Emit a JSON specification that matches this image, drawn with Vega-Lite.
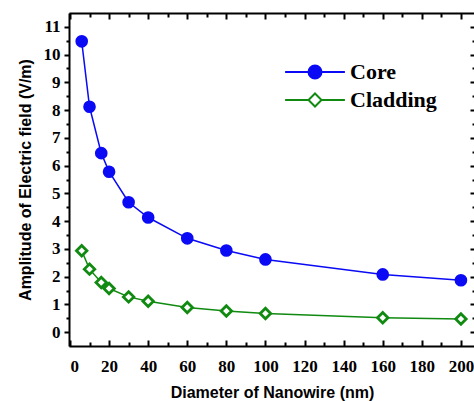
{
  "$schema": "https://vega.github.io/schema/vega-lite/v6.json",
  "autosize": "none",
  "width": 406,
  "height": 333,
  "padding": {"left": 69, "top": 13, "right": 0, "bottom": 55},
  "background": "white",
  "config": {
    "view": {"stroke": null},
    "axis": {
      "grid": false,
      "domainColor": "black",
      "domainWidth": 2,
      "tickColor": "black",
      "tickWidth": 2,
      "labelFont": "Liberation Serif",
      "labelFontWeight": "bold",
      "labelFontSize": 17,
      "labelColor": "black",
      "titleFont": "Liberation Sans",
      "titleFontWeight": "bold",
      "titleFontSize": 16,
      "titleColor": "black"
    },
    "legend": {
      "orient": "none",
      "legendX": 235,
      "legendY": 48,
      "title": null,
      "padding": 0,
      "rowPadding": 6,
      "labelFont": "Liberation Serif",
      "labelFontWeight": "bold",
      "labelFontSize": 22,
      "labelColor": "black",
      "labelOffset": 24,
      "symbolSize": 169,
      "symbolStrokeWidth": 2,
      "symbolOpacity": 1
    }
  },
  "data": {
    "values": [
      {"d": 6, "a": 10.48, "s": "Core"},
      {"d": 10, "a": 8.12, "s": "Core"},
      {"d": 16, "a": 6.45, "s": "Core"},
      {"d": 20, "a": 5.78, "s": "Core"},
      {"d": 30, "a": 4.68, "s": "Core"},
      {"d": 40, "a": 4.13, "s": "Core"},
      {"d": 60, "a": 3.38, "s": "Core"},
      {"d": 80, "a": 2.94, "s": "Core"},
      {"d": 100, "a": 2.62, "s": "Core"},
      {"d": 160, "a": 2.08, "s": "Core"},
      {"d": 200, "a": 1.87, "s": "Core"},
      {"d": 6, "a": 2.93, "s": "Cladding"},
      {"d": 10, "a": 2.27, "s": "Cladding"},
      {"d": 16, "a": 1.79, "s": "Cladding"},
      {"d": 20, "a": 1.57, "s": "Cladding"},
      {"d": 30, "a": 1.27, "s": "Cladding"},
      {"d": 40, "a": 1.11, "s": "Cladding"},
      {"d": 60, "a": 0.89, "s": "Cladding"},
      {"d": 80, "a": 0.76, "s": "Cladding"},
      {"d": 100, "a": 0.67, "s": "Cladding"},
      {"d": 160, "a": 0.52, "s": "Cladding"},
      {"d": 200, "a": 0.47, "s": "Cladding"}
    ]
  },
  "layer": [
    {
      "transform": [{"filter": "datum.s === 'Core'"}],
      "mark": {"type": "line", "color": "#0a0af5", "strokeWidth": 1.5},
      "encoding": {
        "x": {"field": "d", "type": "quantitative",
          "scale": {"domain": [-0.5, 207.2], "nice": false, "zero": false},
          "axis": {"orient": "bottom", "title": "Diameter of Nanowire (nm)", "values": [0,20,40,60,80,100,120,140,160,180,200], "tickSize": -6, "labelPadding": 18, "titlePadding": 10}},
        "y": {"field": "a", "type": "quantitative",
          "scale": {"domain": [-0.5, 11.5], "nice": false, "zero": false},
          "axis": {"orient": "left", "title": "Amplitude of Electric field (V/m)", "values": [0,1,2,3,4,5,6,7,8,9,10,11], "tickSize": 5, "labelPadding": 4, "titlePadding": 10}}
      }
    },
    {
      "transform": [{"filter": "datum.s === 'Cladding'"}],
      "mark": {"type": "line", "color": "#108a10", "strokeWidth": 1.5},
      "encoding": {
        "x": {"field": "d", "type": "quantitative",
          "axis": {"orient": "bottom", "title": null, "labels": false, "domain": false, "values": [10,30,50,70,90,110,130,150,170,190], "tickSize": -4}},
        "y": {"field": "a", "type": "quantitative",
          "axis": {"orient": "left", "title": null, "labels": false, "domain": false, "values": [0.5,1.5,2.5,3.5,4.5,5.5,6.5,7.5,8.5,9.5,10.5], "tickSize": 3}}
      }
    },
    {
      "transform": [{"filter": "datum.s === 'Core'"}],
      "mark": {"type": "point", "shape": "circle", "filled": true, "color": "#0a0af5", "opacity": 1, "size": 160},
      "encoding": {
        "x": {"field": "d", "type": "quantitative",
          "axis": {"orient": "top", "title": null, "labels": false, "values": [0,20,40,60,80,100,120,140,160,180,200], "tickSize": -6}},
        "y": {"field": "a", "type": "quantitative",
          "axis": {"orient": "right", "title": null, "labels": false, "values": [0,1,2,3,4,5,6,7,8,9,10,11], "tickSize": -5}}
      }
    },
    {
      "transform": [{"filter": "datum.s === 'Cladding'"}],
      "mark": {"type": "point", "shape": "diamond", "filled": false, "fill": "white", "fillOpacity": 1, "stroke": "#108a10", "strokeWidth": 2.8, "opacity": 1, "size": 110},
      "encoding": {
        "x": {"field": "d", "type": "quantitative",
          "axis": {"orient": "top", "title": null, "labels": false, "domain": false, "values": [10,30,50,70,90,110,130,150,170,190], "tickSize": -4}},
        "y": {"field": "a", "type": "quantitative",
          "axis": {"orient": "right", "title": null, "labels": false, "domain": false, "values": [0.5,1.5,2.5,3.5,4.5,5.5,6.5,7.5,8.5,9.5,10.5], "tickSize": -3}}
      }
    },
    {
      "mark": {"type": "point", "opacity": 0},
      "encoding": {
        "x": {"field": "d", "type": "quantitative", "axis": null},
        "y": {"field": "a", "type": "quantitative", "axis": null},
        "shape": {"field": "s", "type": "nominal",
          "scale": {"domain": ["Core", "Cladding"], "range": ["M-4.6,0L-1,0M1,0L4.6,0M-1,0A1,1 0 1,0 1,0A1,1 0 1,0 -1,0Z", "M-4.6,0L-1,0M1,0L4.6,0M0,-1L1,0L0,1L-1,0Z"]}},
        "stroke": {"field": "s", "type": "nominal",
          "scale": {"domain": ["Core", "Cladding"], "range": ["#0a0af5", "#108a10"]}},
        "fill": {"field": "s", "type": "nominal",
          "scale": {"domain": ["Core", "Cladding"], "range": ["#0a0af5", "white"]}}
      }
    }
  ],
  "resolve": {"axis": {"x": "independent", "y": "independent"}}
}
